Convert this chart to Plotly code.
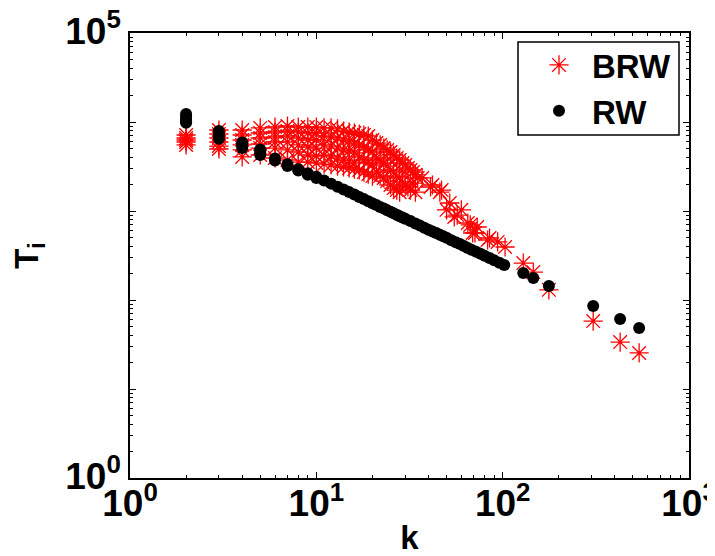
import plotly.graph_objects as go

# ---------------- data ----------------
# RW (black dots): node degree k and value T_i
rw_k = [2, 2, 2, 2, 2, 3, 3, 3, 3, 4, 4, 4, 5, 5, 5, 6, 6, 7, 7, 8, 8, 9, 9, 10, 10,
        11, 12, 13, 14, 15, 16, 17, 18, 19, 20, 21, 22, 23, 24, 25, 26, 27, 28, 29, 30,
        32, 34, 36, 38, 40, 42, 44, 46, 48, 50, 53, 56, 59, 62, 65, 68, 72, 76, 80, 85,
        90, 96, 102, 129, 146, 177, 306, 427, 540]
rw_t = [12300, 11500, 10800, 10200, 9800, 7900, 7400, 6900, 6500, 5900, 5500, 5100,
        4900, 4600, 4250, 3900, 3700, 3350, 3200, 2950, 2850, 2650, 2550, 2420, 2350,
        2200, 2030, 1870, 1740, 1630, 1530, 1440, 1360, 1290, 1220, 1165, 1110, 1065,
        1020, 980, 945, 910, 875, 845, 820, 770, 725, 685, 650, 615, 590, 565, 540, 520,
        500, 470, 445, 425, 405, 385, 368, 348, 330, 314, 296, 280, 262, 247, 201, 177,
        144, 85.6, 61, 48.5]

# BRW (red stars): node degree k and value T_i
brw_k = [2, 2, 2, 2, 2,
         3, 3, 3, 3, 3, 3,
         4, 4, 4, 4, 4, 4,
         5, 5, 5, 5, 5, 5,
         6, 6, 6, 6, 6, 6,
         7, 7, 7, 7, 7, 7,
         8, 8, 8, 8, 8, 8,
         9, 9, 9, 9, 9, 9,
         10, 10, 10, 10, 10, 10,
         11, 11, 11, 11, 11,
         12, 12, 12, 12, 12,
         13, 13, 13, 13, 13,
         14, 14, 14, 14, 14,
         15, 15, 15, 15, 15,
         16, 16, 16, 16, 16,
         17, 17, 17, 17,
         18, 18, 18, 18,
         19, 19, 19, 19,
         20, 20, 20, 20,
         21, 21, 21, 22, 22, 22, 23, 23, 23, 24, 24, 24, 25, 25, 25,
         26, 26, 26, 27, 27, 27, 28, 28, 28, 29, 29, 30, 30, 31, 31,
         32, 32, 33, 33, 34, 34, 35, 37, 41, 42, 46, 47, 50, 52, 55, 57,
         60, 65, 67, 69, 71, 73, 83, 85, 94, 103, 129, 146, 177, 306, 427, 540]
brw_t = [7140, 6610, 6280, 5960, 5520,
         8130, 7330, 6610, 5960, 5370, 4970,
         8130, 7140, 6280, 5520, 4850, 4050,
         8570, 7520, 6610, 5660, 5100, 4260,
         8790, 7720, 6780, 5960, 5100, 3940,
         9020, 7920, 6960, 5960, 4850, 3740,
         8790, 7720, 6610, 5520, 4600, 3550,
         8790, 7520, 6280, 5240, 4260, 3550,
         8790, 7520, 6280, 5100, 4150, 3460,
         8570, 6960, 5520, 4260, 3370,
         8570, 6780, 5370, 4150, 3290,
         8350, 6610, 5100, 3940, 3200,
         7920, 6280, 4850, 3740, 3120,
         7720, 6120, 4720, 3650, 3040,
         7520, 5800, 4490, 3460, 2960,
         7330, 5520, 4050, 2890,
         7140, 5240, 3740, 2740,
         6960, 4850, 3550, 2600,
         6280, 4600, 3290, 2470,
         5800, 3940, 2740, 5520, 3740, 2470, 5100, 3460, 2350, 4850, 3200, 2170, 4600, 2890, 1960,
         4260, 2740, 1810, 3940, 2470, 1720, 3740, 2350, 1630, 3460, 2120, 3290, 1960, 3040, 1860,
         2890, 1720, 2740, 2060, 2540, 1630, 2350, 2350, 1860, 1960, 1630, 1720, 1030, 1230, 857, 900,
         1030, 733, 697, 566, 566, 661, 472, 497, 449, 394, 260, 206, 130, 58, 33.7, 25.4]

x_tick_vals = [1, 10, 100, 1000]
x_tick_text = ["10<sup>0</sup>", "10<sup>1</sup>", "10<sup>2</sup>", "10<sup>3</sup>"]
y_tick_vals = [1, 10, 100, 1000, 10000, 100000]
y_tick_text = ["10<sup>0</sup>", "", "", "", "", "10<sup>5</sup>"]

FONT = "Liberation Sans, Arial, sans-serif"

# The page body adds an 8px offset, so the figure is laid out 8px up/left.
OFF = 8
FIG_W, FIG_H = 715 - OFF, 556 - OFF
# plot-area geometry (figure pixels)
L, R, T, B = 130 - OFF, 689 - OFF, 33 - OFF, 478 - OFF
W, H = R - L, B - T

def px_x(p):
    return (p - OFF - L) / W

def px_y(p):
    return (B - (p - OFF)) / H

fig = go.Figure()
fig.add_trace(go.Scatter(
    x=brw_k, y=brw_t, mode="markers", name="BRW",
    marker=dict(symbol="asterisk-open", size=16, color="#ff0000",
                line=dict(color="#ff0000", width=1.3)),
))
fig.add_trace(go.Scatter(
    x=rw_k, y=rw_t, mode="markers", name="RW",
    marker=dict(symbol="circle", size=12, color="black", line=dict(width=0)),
))

axis_common = dict(
    type="log", showgrid=False, zeroline=False, automargin=False,
    showline=True, linecolor="black", linewidth=1.5, mirror="ticks",
    ticks="inside", ticklen=6, tickcolor="black", tickwidth=1,
    ticklabeloverflow="allow",
    tickfont=dict(family=FONT, size=37, color="black", weight="bold"),
    minor=dict(ticks="inside", ticklen=3, tickcolor="black", dtick="D1"),
)

fig.update_xaxes(**axis_common, range=[0, 3], tickvals=x_tick_vals, ticktext=x_tick_text,
                 ticklabelstandoff=-8,
                 title=dict(text="k", font=dict(family=FONT, size=33, color="black", weight="bold"),
                            standoff=11))
fig.update_yaxes(**axis_common, range=[0, 5], tickvals=y_tick_vals, ticktext=y_tick_text,
                 ticklabelshift=-2,
                 title=dict(text="T<sub>i</sub>", font=dict(family=FONT, size=33, color="black", weight="bold"),
                            standoff=24))

fig.add_shape(type="rect", xref="paper", yref="paper",
              x0=px_x(518), x1=px_x(679), y0=px_y(135), y1=px_y(42),
              line=dict(color="black", width=1.5), fillcolor="white", layer="above")

fig.update_layout(
    width=FIG_W, height=FIG_H,
    margin=dict(l=L, r=FIG_W - R, t=T, b=FIG_H - B, autoexpand=False),
    paper_bgcolor="white", plot_bgcolor="white",
    showlegend=True,
    legend=dict(x=px_x(526), y=px_y(37), xanchor="left", yanchor="top",
                bgcolor="rgba(0,0,0,0)", borderwidth=0,
                font=dict(family=FONT, size=33, color="black", weight="bold"),
                itemwidth=56, itemsizing="trace"),
)

fig.write_html("out.html")
